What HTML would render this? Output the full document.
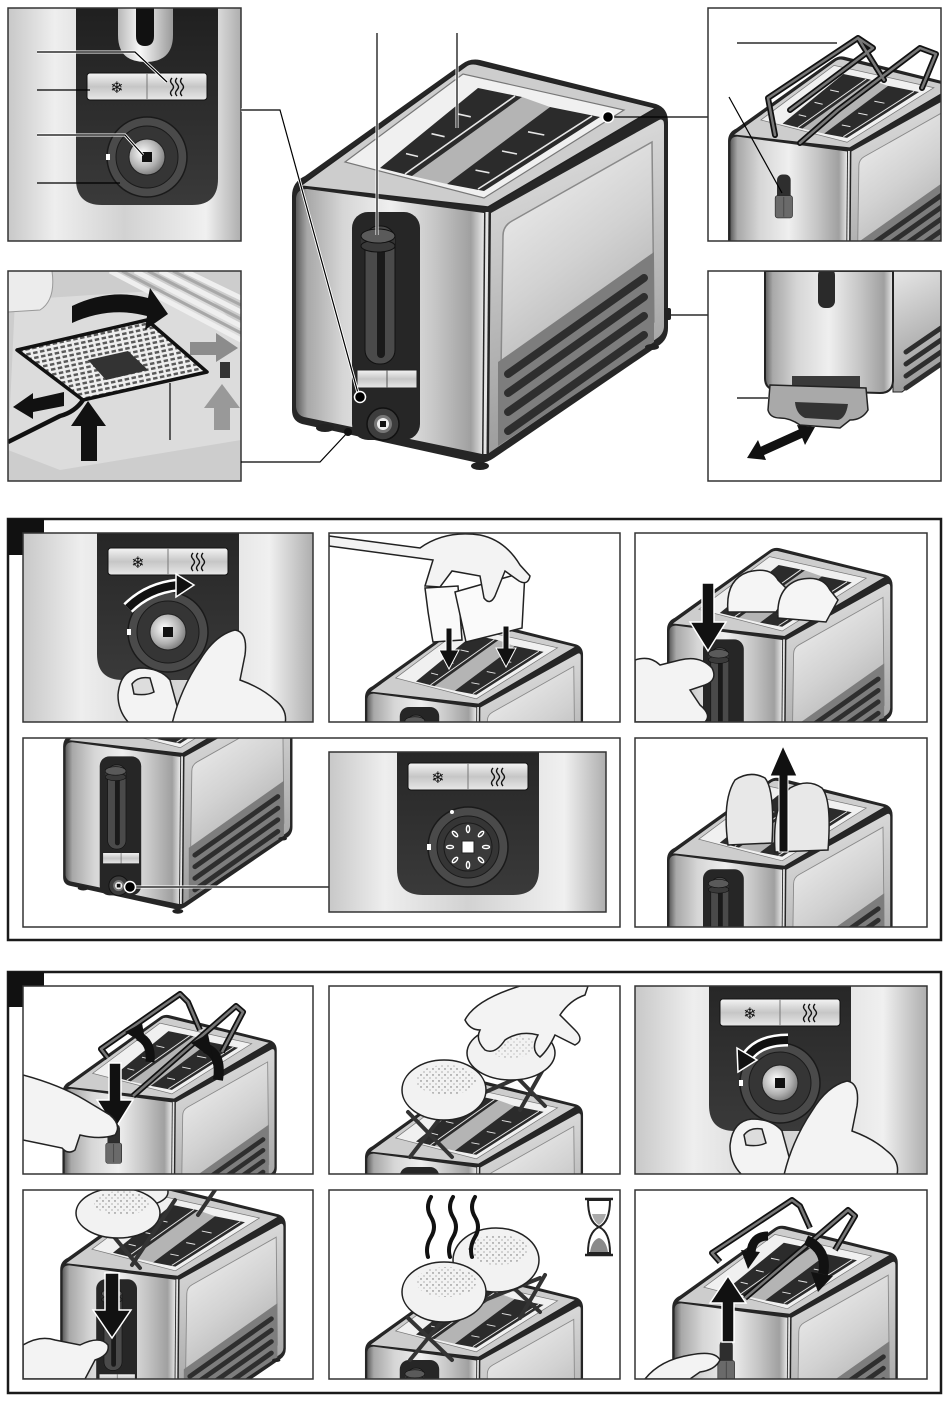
<!DOCTYPE html>
<html><head><meta charset="utf-8"><style>html,body{margin:0;padding:0;background:#fff;width:950px;height:1402px;overflow:hidden}svg{display:block}</style></head>
<body>
<svg width="950" height="1402" viewBox="0 0 950 1402" xmlns="http://www.w3.org/2000/svg" font-family="'DejaVu Sans','Liberation Sans',sans-serif">
<defs>
<linearGradient id="gFront" x1="0" y1="0" x2="1" y2="0">
<stop offset="0" stop-color="#5e5e5e"/><stop offset="0.06" stop-color="#a8a8a8"/><stop offset="0.25" stop-color="#d6d6d6"/><stop offset="0.5" stop-color="#efefef"/><stop offset="0.75" stop-color="#c4c4c4"/><stop offset="0.93" stop-color="#a0a0a0"/><stop offset="1" stop-color="#e8e8e8"/>
</linearGradient>
<linearGradient id="gSide" x1="0" y1="0" x2="0.2" y2="1"><stop offset="0" stop-color="#e6e6e6"/><stop offset="1" stop-color="#9a9a9a"/></linearGradient>
<linearGradient id="gSide2" x1="0" y1="0" x2="0.4" y2="1"><stop offset="0" stop-color="#f6f6f6"/><stop offset="0.5" stop-color="#d2d2d2"/><stop offset="1" stop-color="#a4a4a4"/></linearGradient>
<linearGradient id="gBtn" x1="0" y1="0" x2="0" y2="1"><stop offset="0" stop-color="#f4f4f4"/><stop offset="0.5" stop-color="#c6c6c6"/><stop offset="1" stop-color="#e8e8e8"/></linearGradient>
<linearGradient id="gBg" x1="0" y1="0" x2="1" y2="0"><stop offset="0" stop-color="#c8c8c8"/><stop offset="0.2" stop-color="#eeeeee"/><stop offset="0.5" stop-color="#d2d2d2"/><stop offset="0.85" stop-color="#f0f0f0"/><stop offset="1" stop-color="#aeaeae"/></linearGradient>
<linearGradient id="gDark" x1="0" y1="0" x2="0" y2="1"><stop offset="0" stop-color="#161616"/><stop offset="1" stop-color="#3a3a3a"/></linearGradient>
<linearGradient id="gU" x1="0" y1="0" x2="1" y2="0"><stop offset="0" stop-color="#b8b8b8"/><stop offset="0.4" stop-color="#f8f8f8"/><stop offset="1" stop-color="#9a9a9a"/></linearGradient>
<radialGradient id="gKnob" cx="0.4" cy="0.4" r="0.7"><stop offset="0" stop-color="#ffffff"/><stop offset="0.6" stop-color="#b0b0b0"/><stop offset="1" stop-color="#6a6a6a"/></radialGradient>
<pattern id="pDots" width="6" height="6" patternUnits="userSpaceOnUse"><circle cx="1" cy="1" r="0.7" fill="#444"/><circle cx="4" cy="4" r="0.6" fill="#666"/></pattern>
<pattern id="pGrid" width="7" height="5" patternUnits="userSpaceOnUse" patternTransform="rotate(-12)"><rect width="7" height="5" fill="#eeeeee"/><rect x="1" y="1" width="4.5" height="2.5" fill="#5a5a5a"/></pattern>

<g id="T">
<path d="M292,196 Q292,182 305,176 L462,64 Q470,58 480,60 L656,104 Q668,108 668,122 L668,328 Q668,340 658,346 L494,458 Q484,465 474,462 L302,424 Q292,421 292,410 Z" fill="#262626"/>
<path d="M296,198 Q297,189 307,189 L484,213 L482,454 L304,417 Q297,415 296,407 Z" fill="url(#gFront)"/>
<path d="M491,213 L659,120 Q664,118 664,125 L664,326 Q664,334 656,339 L489,453 Z" fill="url(#gSide)"/>
<path d="M503,236 Q503,226 512,221 L652,142 L654,322 L500,438 Z" fill="url(#gSide2)" stroke="#8a8a8a" stroke-width="1.5"/>
<path d="M498,362 L654,252 L654,342 L498,446 Z" fill="#7d7d7d"/>
<g stroke="#2e2e2e" stroke-width="8" stroke-linecap="round">
<line x1="508" y1="374" x2="644" y2="278"/><line x1="508" y1="393" x2="644" y2="297"/><line x1="508" y1="412" x2="644" y2="316"/><line x1="508" y1="431" x2="644" y2="335"/>
</g>
<line x1="487" y1="212" x2="485" y2="454" stroke="#e4e4e4" stroke-width="3"/>
<path d="M300,186 L466,66 Q470,63 476,64 L656,108 L488,207 Z" fill="#cdcdcd" stroke="#222" stroke-width="1.5"/>
<path d="M345,162 L463,74 L624,110 L484,198 Z" fill="#f0f0f0" stroke="#777" stroke-width="1.2"/>
<path d="M412,176 L522,97 L550,107 L447,184 Z" fill="#b4b4b4"/>
<path d="M380,168 L478,88 L522,97 L412,176 Z" fill="#2b2b2b"/>
<path d="M447,184 L550,107 L600,117 L484,191 Z" fill="#2b2b2b"/>
<g stroke="#e6e6e6" stroke-width="1.6">
<line x1="405" y1="174" x2="515" y2="96"/><line x1="478" y1="189" x2="592" y2="116"/>
<line x1="406" y1="153.6" x2="418" y2="156.5"/><line x1="431.5" y1="133.7" x2="444.6" y2="136.7"/><line x1="456.7" y1="113.7" x2="470.8" y2="116.8"/>
<line x1="475.5" y1="170.1" x2="489.4" y2="172.8"/><line x1="502" y1="151" x2="517" y2="154"/><line x1="528" y1="131.8" x2="544.3" y2="135"/>
</g>
<ellipse cx="325" cy="428" rx="9" ry="4" fill="#222"/><ellipse cx="480" cy="466" rx="9" ry="4" fill="#222"/><ellipse cx="652" cy="347" rx="7" ry="3" fill="#222"/>
</g>

<g id="TF1">
<rect x="352" y="212" width="68" height="228" rx="16" fill="#262626"/>
<rect x="365" y="226" width="30" height="138" rx="14" fill="#4a4a4a" stroke="#111"/>
<rect x="377" y="240" width="8" height="118" rx="4" fill="#1a1a1a"/>
<rect x="361" y="236" width="34" height="10" fill="#333"/>
<ellipse cx="378" cy="246" rx="17" ry="6" fill="#3a3a3a" stroke="#111"/>
<ellipse cx="378" cy="236" rx="17" ry="7" fill="#5a5a5a" stroke="#111"/>
<rect x="357" y="370" width="60" height="18" fill="url(#gBtn)" stroke="#222"/>
<line x1="387" y1="370" x2="387" y2="388" stroke="#555"/>
<circle cx="383" cy="424" r="16" fill="#3d3d3d" stroke="#111" stroke-width="1.5"/>
<circle cx="383" cy="424" r="9" fill="#777"/><circle cx="383" cy="424" r="6" fill="#eee"/>
<rect x="380" y="421" width="6" height="6" fill="#111"/>
</g>

<g id="TF2">
<rect x="371" y="250" width="22" height="70" rx="9" fill="#2e2e2e"/>
<rect x="368" y="284" width="28" height="36" rx="4" fill="#6a6a6a" stroke="#222"/>
<line x1="382" y1="286" x2="382" y2="318" stroke="#333"/>
</g>

<g id="C">
<path d="M-71,-220 L-71,22 Q-71,48 -45,48 L45,48 Q71,48 71,22 L71,-220 Z" fill="url(#gDark)"/>
<rect x="-60" y="-84" width="120" height="27" rx="3" fill="url(#gBtn)" stroke="#111" stroke-width="1"/>
<line x1="0" y1="-84" x2="0" y2="-57" stroke="#777"/>
<text x="-30" y="-64" font-size="16" text-anchor="middle" fill="#111">❄</text>
<g fill="none" stroke="#111" stroke-width="1.4"><path d="M25,-79 q-3,3 0,6 q3,3 0,6 q-3,3 0,6"/><path d="M30,-79 q-3,3 0,6 q3,3 0,6 q-3,3 0,6"/><path d="M35,-79 q-3,3 0,6 q3,3 0,6 q-3,3 0,6"/></g>
<circle r="40" fill="#4a4a4a" stroke="#1a1a1a" stroke-width="1.5"/>
<circle r="31" fill="#353535" stroke="#1a1a1a"/>
<circle r="18" fill="url(#gKnob)" stroke="#222"/>
<rect x="-5" y="-5" width="10" height="10" fill="#111"/>
<rect x="-41" y="-3" width="4" height="6" fill="#fff"/>
</g>

<g id="H1" fill="#f3f3f3" stroke="#222" stroke-width="1.5">
<path d="M-50,63 Q-48,38 -28,36 Q-8,36 2,48 L14,92 L-38,92 Q-50,80 -50,63 Z"/>
<path d="M-36,52 Q-30,44 -18,46 L-14,60 Q-22,64 -34,62 Z" fill="#ddd"/>
<path d="M4,92 Q12,58 32,28 Q47,3 67,-2 Q80,0 77,23 L72,48 Q94,56 107,68 Q120,78 117,92 Z"/>
</g>
</defs>

<!-- ============ TOP SECTION ============ -->
<svg x="8" y="8" width="233" height="233" viewBox="8 8 233 233">
<rect x="8" y="8" width="233" height="233" fill="url(#gBg)"/>
<use href="#C" transform="translate(147,157)"/>
<path d="M118,8 L118,35 Q118,62 145,62 Q173,62 173,35 L173,8 Z" fill="url(#gU)"/>
<path d="M136,8 L136,36 Q136,46 145,46 Q154,46 154,36 L154,8 Z" fill="#111"/>
<g stroke="#000" stroke-width="1.2" fill="none">
<polyline points="37,52 135,52 167,82" stroke="#fff" stroke-width="3"/>
<polyline points="37,52 135,52 167,82"/>
<line x1="37" y1="90" x2="90" y2="90"/>
<polyline points="37,135 125,135 143,155" stroke="#fff" stroke-width="3"/>
<polyline points="37,135 125,135 143,155"/>
<line x1="37" y1="183" x2="120" y2="183"/>
</g>
</svg>
<rect x="8" y="8" width="233" height="233" fill="none" stroke="#333" stroke-width="1.5"/>

<svg x="8" y="271" width="233" height="210" viewBox="8 271 233 210">
<rect x="8" y="271" width="233" height="210" fill="#cdcdcd"/>
<path d="M15,300 L200,288 L241,330 L241,440 L60,470 L8,450 Z" fill="#dcdcdc"/>
<g stroke="#efefef" stroke-width="5"><line x1="110" y1="271" x2="241" y2="340"/><line x1="135" y1="271" x2="241" y2="326"/><line x1="160" y1="271" x2="241" y2="312"/><line x1="185" y1="271" x2="241" y2="298"/></g>
<g stroke="#a8a8a8" stroke-width="3"><line x1="122" y1="271" x2="241" y2="333"/><line x1="148" y1="271" x2="241" y2="319"/><line x1="173" y1="271" x2="241" y2="305"/></g>
<path d="M8,271 L52,271 Q56,300 40,310 L8,312 Z" fill="#ececec" stroke="#999"/>
<path d="M17,350 L147,320 L207,372 L83,400 Z" fill="url(#pGrid)" stroke="#111" stroke-width="3.5" stroke-linejoin="round"/>
<path d="M88,360 L128,351 L148,370 L106,380 Z" fill="#333"/>
<path d="M83,400 Q75,412 60,416 L8,442" fill="none" stroke="#111" stroke-width="4.5"/>
<rect x="220" y="362" width="10" height="16" fill="#333"/>
<path d="M72,323 L72,306 Q110,288 148,298 L150,288 L168,314 L145,330 L147,316 Q110,306 72,323 Z" fill="#111"/>
<polygon points="13,407 33,393 33,399 64,392 64,406 33,412 33,419" fill="#111"/>
<polygon points="88,401 71,426 81,426 81,461 97,461 97,426 106,426" fill="#111"/>
<polygon points="190,342 216,342 216,333 238,348 216,362 216,355 190,355" fill="#8c8c8c"/>
<polygon points="222,384 204,408 214,408 214,430 230,430 230,408 240,408" fill="#999"/>
<line x1="170" y1="383" x2="170" y2="440" stroke="#000" stroke-width="1.2"/>
</svg>
<rect x="8" y="271" width="233" height="210" fill="none" stroke="#333" stroke-width="1.5"/>

<use href="#T"/>
<use href="#TF1"/>
<g fill="none">
<line x1="377" y1="33" x2="377" y2="235" stroke="#fff" stroke-width="3"/>
<line x1="377" y1="33" x2="377" y2="235" stroke="#000" stroke-width="1.2"/>
<line x1="457" y1="33" x2="457" y2="128" stroke="#fff" stroke-width="3"/>
<line x1="457" y1="33" x2="457" y2="128" stroke="#000" stroke-width="1.2"/>
<polyline points="241,110 280,110 358,393" stroke="#fff" stroke-width="3"/>
<polyline points="241,110 280,110 358,393" stroke="#000" stroke-width="1.2"/>
<polyline points="241,462 320,462 348,432" stroke="#000" stroke-width="1.2"/>
<line x1="608" y1="117" x2="708" y2="117" stroke="#000" stroke-width="1.2"/>
<line x1="668" y1="315" x2="708" y2="315" stroke="#000" stroke-width="1.2"/>
</g>
<circle cx="360" cy="397" r="5.5" fill="#000" stroke="#fff" stroke-width="1.5"/>
<circle cx="348" cy="432" r="4" fill="#111"/>
<circle cx="608" cy="117" r="5.5" fill="#000" stroke="#fff" stroke-width="1.5"/>
<rect x="664" y="308" width="7" height="12" rx="2" fill="#222"/>

<svg x="708" y="8" width="233" height="233" viewBox="708 8 233 233">
<rect x="708" y="8" width="233" height="233" fill="#fff"/>
<use href="#T" transform="translate(547,19.5) scale(0.62)"/>
<use href="#TF2" transform="translate(547,19.5) scale(0.62)"/>
<g fill="none" stroke-linejoin="round" stroke-linecap="round">
<path d="M775,135 L768,98 L858,38 L873,48 L790,110 M800,143 L838,110 L920,48 L936,54 L922,88 M858,38 L884,80" stroke="#111" stroke-width="6"/>
<path d="M775,135 L768,98 L858,38 L873,48 L790,110 M800,143 L838,110 L920,48 L936,54 L922,88 M858,38 L884,80" stroke="#777" stroke-width="2.5"/>
</g>
<line x1="737" y1="43" x2="837" y2="43" stroke="#000" stroke-width="1.2"/>
<line x1="729" y1="97" x2="782" y2="193" stroke="#000" stroke-width="1.2"/>
</svg>
<rect x="708" y="8" width="233" height="233" fill="none" stroke="#333" stroke-width="1.5"/>

<svg x="708" y="271" width="233" height="210" viewBox="708 271 233 210">
<rect x="708" y="271" width="233" height="210" fill="#fff"/>
<path d="M893,271 L941,271 L941,362 L902,392 L893,392 Z" fill="url(#gSide)" stroke="#222"/>
<g stroke="#2e2e2e" stroke-width="5" stroke-linecap="round"><line x1="906" y1="352" x2="941" y2="328"/><line x1="906" y1="364" x2="941" y2="340"/><line x1="906" y1="376" x2="941" y2="352"/><line x1="906" y1="388" x2="941" y2="364"/></g>
<path d="M765,271 L893,271 L893,380 Q893,393 880,393 L778,390 Q765,390 765,378 Z" fill="url(#gFront)" stroke="#222" stroke-width="2"/>
<rect x="818" y="268" width="17" height="40" rx="7" fill="#2a2a2a"/>
<rect x="792" y="376" width="68" height="14" fill="#3a3a3a"/>
<path d="M770,385 L866,388 L868,410 Q862,420 850,420 L840,428 L800,425 Q790,418 780,418 Q770,418 768,410 Z" fill="#a9a9a9" stroke="#222" stroke-width="1.5"/>
<path d="M795,402 L848,404 Q846,418 838,420 L805,418 Q796,414 795,402 Z" fill="#333"/>
<line x1="737" y1="398" x2="768" y2="398" stroke="#000" stroke-width="1.2"/>
<line x1="760" y1="452" x2="802" y2="433" stroke="#111" stroke-width="9"/>
<polygon points="747,458 758,440 766,460" fill="#111"/>
<polygon points="815,427 797,425 805,445" fill="#111"/>
</svg>
<rect x="708" y="271" width="233" height="210" fill="none" stroke="#333" stroke-width="1.5"/>

<!-- ============ SECTION 1 ============ -->
<rect x="8" y="519" width="933" height="421" fill="none" stroke="#1a1a1a" stroke-width="2.5"/>
<rect x="8" y="519" width="36" height="36" fill="#111"/>

<svg x="23" y="533" width="290" height="189" viewBox="23 533 290 189">
<rect x="23" y="533" width="290" height="189" fill="url(#gBg)"/>
<use href="#C" transform="translate(168,632)"/>
<path d="M128,608 Q148,588 178,585" fill="none" stroke="#fff" stroke-width="13"/>
<path d="M128,608 Q148,588 178,585" fill="none" stroke="#111" stroke-width="8"/>
<polygon points="176,574 194,585 176,597" fill="#111" stroke="#fff" stroke-width="1.5"/>
<use href="#H1" transform="translate(168,632)"/>
</svg>
<rect x="23" y="533" width="290" height="189" fill="none" stroke="#333" stroke-width="1.5"/>

<svg x="329" y="533" width="291" height="189" viewBox="329 533 291 189">
<rect x="329" y="533" width="291" height="189" fill="#fff"/>
<use href="#T" transform="translate(195.6,584) scale(0.58)"/>
<use href="#TF1" transform="translate(195.6,584) scale(0.58)"/>
<path d="M425,588 L458,586 L462,640 L433,642 Q428,615 425,588 Z" fill="#fafafa" stroke="#222" stroke-width="1.5"/>
<path d="M455,592 L525,572 L522,628 L466,642 Z" fill="#fafafa" stroke="#222" stroke-width="1.5"/>
<path d="M329,536 L420,548 Q445,530 480,535 Q505,540 520,565 L530,576 Q528,586 519,581 L505,571 L495,596 Q490,606 484,598 L480,576 L452,571 L440,587 L425,586 L433,560 L329,546 Z" fill="#f3f3f3" stroke="#222" stroke-width="1.5"/>
<g fill="#111" stroke="#fff" stroke-width="1"><polygon points="446,628 452,628 452,650 459,650 449,669 439,650 446,650"/><polygon points="503,626 509,626 509,648 516,648 506,667 496,648 503,648"/></g>
</svg>
<rect x="329" y="533" width="291" height="189" fill="none" stroke="#333" stroke-width="1.5"/>

<svg x="635" y="533" width="292" height="189" viewBox="635 533 292 189">
<rect x="635" y="533" width="292" height="189" fill="#fff"/>
<use href="#T" transform="translate(491.8,512.2) scale(0.6)"/>
<use href="#TF1" transform="translate(491.8,512.2) scale(0.6)"/>
<path d="M728,612 Q725,580 748,572 Q770,566 778,580 L790,592 L776,612 Z" fill="#f5f5f5" stroke="#222" stroke-width="1.5"/>
<path d="M778,618 Q776,588 798,580 Q822,574 830,590 L838,600 L826,622 Z" fill="#f5f5f5" stroke="#222" stroke-width="1.5"/>
<polygon points="702,583 714,583 714,622 726,622 708,651 690,622 702,622" fill="#111" stroke="#fff" stroke-width="1.5"/>
<path d="M635,660 Q650,655 660,665 L680,660 Q700,655 712,668 Q718,680 705,685 L690,690 L700,705 Q712,715 705,722 L635,722 Z" fill="#f3f3f3" stroke="#222" stroke-width="1.5"/>
</svg>
<rect x="635" y="533" width="292" height="189" fill="none" stroke="#333" stroke-width="1.5"/>

<svg x="23" y="738" width="597" height="189" viewBox="23 738 597 189">
<rect x="23" y="738" width="597" height="189" fill="#fff"/>
<use href="#T" transform="translate(-115,627) scale(0.61)"/>
<use href="#TF1" transform="translate(-115,627) scale(0.61)"/>
<line x1="130" y1="887" x2="329" y2="887" stroke="#fff" stroke-width="3"/>
<line x1="130" y1="887" x2="329" y2="887" stroke="#000" stroke-width="1.2"/>
<circle cx="130" cy="887" r="5.5" fill="#000" stroke="#fff" stroke-width="1.5"/>
</svg>
<rect x="23" y="738" width="597" height="189" fill="none" stroke="#333" stroke-width="1.5"/>
<svg x="329" y="752" width="277" height="160" viewBox="329 752 277 160">
<rect x="329" y="752" width="277" height="160" fill="url(#gBg)"/>
<use href="#C" transform="translate(468,847)"/>
<circle cx="468" cy="847" r="24" fill="#3a3a3a" stroke="#1a1a1a"/>
<g fill="none" stroke="#fff" stroke-width="1.4">
<ellipse cx="468" cy="829" rx="1.6" ry="3.5"/><ellipse cx="481" cy="834" rx="1.6" ry="3.5" transform="rotate(45 481 834)"/><ellipse cx="486" cy="847" rx="3.5" ry="1.6"/><ellipse cx="481" cy="860" rx="1.6" ry="3.5" transform="rotate(-45 481 860)"/><ellipse cx="455" cy="834" rx="1.6" ry="3.5" transform="rotate(-45 455 834)"/><ellipse cx="450" cy="847" rx="3.5" ry="1.6"/><ellipse cx="455" cy="860" rx="1.6" ry="3.5" transform="rotate(45 455 860)"/><ellipse cx="468" cy="865" rx="1.6" ry="3.5"/>
</g>
<rect x="462" y="841" width="12" height="12" fill="#fff" stroke="#222"/>
<circle cx="452" cy="812" r="2" fill="#fff"/>
</svg>
<rect x="329" y="752" width="277" height="160" fill="none" stroke="#333" stroke-width="1.5"/>

<svg x="635" y="738" width="292" height="189" viewBox="635 738 292 189">
<rect x="635" y="738" width="292" height="189" fill="#fff"/>
<use href="#T" transform="translate(491.8,742) scale(0.6)"/>
<use href="#TF1" transform="translate(491.8,742) scale(0.6)"/>
<path d="M728,845 Q722,800 735,780 Q750,770 765,778 Q775,790 772,843 Z" fill="#e8e8e8" stroke="#222" stroke-width="1.5"/>
<path d="M775,852 Q772,805 790,788 Q808,778 822,788 Q832,800 828,850 Z" fill="#e8e8e8" stroke="#222" stroke-width="1.5"/>
<polygon points="783,746 797,776 788,776 788,852 779,852 779,776 770,776" fill="#111" stroke="#fff" stroke-width="1"/>
</svg>
<rect x="635" y="738" width="292" height="189" fill="none" stroke="#333" stroke-width="1.5"/>

<!-- ============ SECTION 2 ============ -->
<rect x="8" y="972" width="933" height="421" fill="none" stroke="#1a1a1a" stroke-width="2.5"/>
<rect x="8" y="972" width="36" height="35" fill="#111"/>

<svg x="23" y="986" width="290" height="188" viewBox="23 986 290 188">
<rect x="23" y="986" width="290" height="188" fill="#fff"/>
<use href="#T" transform="translate(-104,981) scale(0.57)"/>
<use href="#TF2" transform="translate(-104,981) scale(0.57)"/>
<g fill="none" stroke-linejoin="round">
<path d="M108,1058 L101,1049 L180,994 L188,1002 L200,1030 M133,1096 L236,1006 L243,1012 L222,1052" stroke="#111" stroke-width="6"/>
<path d="M108,1058 L101,1049 L180,994 L188,1002 L200,1030 M133,1096 L236,1006 L243,1012 L222,1052" stroke="#777" stroke-width="2.5"/>
</g>
<path d="M150,1062 Q152,1042 138,1036" fill="none" stroke="#111" stroke-width="9"/>
<polygon points="125,1032 142,1023 146,1045" fill="#111"/>
<path d="M218,1080 Q222,1054 205,1048" fill="none" stroke="#111" stroke-width="10"/>
<polygon points="191,1043 208,1034 213,1059" fill="#111"/>
<polygon points="109,1063 121,1063 121,1100 133,1100 115,1129 97,1100 109,1100" fill="#111" stroke="#fff" stroke-width="1.5"/>
<path d="M23,1075 Q60,1085 85,1100 L110,1115 Q122,1125 115,1135 Q100,1140 80,1135 L75,1150 Q68,1155 62,1148 L23,1140 Z" fill="#f3f3f3" stroke="#222" stroke-width="1.5"/>
</svg>
<rect x="23" y="986" width="290" height="188" fill="none" stroke="#333" stroke-width="1.5"/>

<svg x="329" y="986" width="291" height="188" viewBox="329 986 291 188">
<rect x="329" y="986" width="291" height="188" fill="#fff"/>
<use href="#T" transform="translate(195.6,1044) scale(0.58)"/>
<use href="#TF1" transform="translate(195.6,1044) scale(0.58)"/>
<g stroke="#333" stroke-width="4" stroke-linecap="round"><line x1="408" y1="1112" x2="452" y2="1157"/><line x1="448" y1="1108" x2="410" y2="1157"/><line x1="512" y1="1072" x2="545" y2="1106"/><line x1="545" y1="1066" x2="520" y2="1110"/><line x1="440" y1="1112" x2="540" y2="1068"/></g>
<ellipse cx="511" cy="1053" rx="44" ry="27" fill="#f2f2f2" stroke="#222" stroke-width="1.5"/>
<ellipse cx="444" cy="1090" rx="42" ry="30" fill="#f2f2f2" stroke="#222" stroke-width="1.5"/>
<ellipse cx="446" cy="1080" rx="30" ry="15" fill="url(#pDots)" opacity="0.8"/>
<ellipse cx="510" cy="1046" rx="25" ry="12" fill="url(#pDots)" opacity="0.5"/>
<path d="M520,986 L588,986 L585,995 Q570,1000 560,1015 L575,1030 Q585,1040 575,1045 L555,1035 Q548,1050 540,1057 Q530,1050 538,1035 Q520,1030 505,1040 Q495,1055 485,1050 Q475,1040 480,1030 Q470,1030 465,1020 Q475,1000 520,986 Z" fill="#f3f3f3" stroke="#222" stroke-width="1.5"/>
</svg>
<rect x="329" y="986" width="291" height="188" fill="none" stroke="#333" stroke-width="1.5"/>

<svg x="635" y="986" width="292" height="188" viewBox="635 986 292 188">
<rect x="635" y="986" width="292" height="188" fill="url(#gBg)"/>
<use href="#C" transform="translate(780,1083)"/>
<path d="M788,1040 Q760,1040 748,1056" fill="none" stroke="#fff" stroke-width="13"/>
<path d="M788,1040 Q760,1040 748,1056" fill="none" stroke="#111" stroke-width="8"/>
<polygon points="737,1048 757,1060 738,1072" fill="#111" stroke="#fff" stroke-width="1.5"/>
<use href="#H1" transform="translate(780,1083)"/>
</svg>
<rect x="635" y="986" width="292" height="188" fill="none" stroke="#333" stroke-width="1.5"/>

<svg x="23" y="1190" width="290" height="189" viewBox="23 1190 290 189">
<rect x="23" y="1190" width="290" height="189" fill="#fff"/>
<use href="#T" transform="translate(-115,1152) scale(0.6)"/>
<use href="#TF1" transform="translate(-115,1152) scale(0.6)"/>
<g stroke="#333" stroke-width="4" stroke-linecap="round"><line x1="110" y1="1232" x2="140" y2="1268"/><line x1="175" y1="1200" x2="132" y2="1265"/><line x1="215" y1="1190" x2="198" y2="1215"/></g>
<ellipse cx="140" cy="1192" rx="28" ry="14" fill="#f2f2f2" stroke="#222" stroke-width="1.5"/>
<ellipse cx="118" cy="1213" rx="42" ry="25" fill="#f2f2f2" stroke="#222" stroke-width="1.5"/>
<ellipse cx="122" cy="1203" rx="28" ry="12" fill="url(#pDots)" opacity="0.8"/>
<polygon points="105,1273 119,1273 119,1310 131,1310 112,1338 93,1310 105,1310" fill="#111" stroke="#fff" stroke-width="1.5"/>
<path d="M23,1345 Q40,1335 55,1340 L80,1345 Q100,1335 108,1345 Q110,1355 95,1360 L85,1379 L23,1379 Z" fill="#f3f3f3" stroke="#222" stroke-width="1.5"/>
</svg>
<rect x="23" y="1190" width="290" height="189" fill="none" stroke="#333" stroke-width="1.5"/>

<svg x="329" y="1190" width="291" height="189" viewBox="329 1190 291 189">
<rect x="329" y="1190" width="291" height="189" fill="#fff"/>
<use href="#T" transform="translate(195.6,1237) scale(0.58)"/>
<use href="#TF1" transform="translate(195.6,1237) scale(0.58)"/>
<g stroke="#333" stroke-width="4" stroke-linecap="round"><line x1="408" y1="1318" x2="452" y2="1360"/><line x1="448" y1="1314" x2="410" y2="1360"/><line x1="505" y1="1280" x2="540" y2="1312"/><line x1="545" y1="1275" x2="520" y2="1318"/><line x1="440" y1="1318" x2="540" y2="1278"/></g>
<ellipse cx="496" cy="1260" rx="43" ry="32" fill="#f2f2f2" stroke="#222" stroke-width="1.5"/>
<ellipse cx="444" cy="1292" rx="42" ry="30" fill="#f2f2f2" stroke="#222" stroke-width="1.5"/>
<ellipse cx="446" cy="1282" rx="30" ry="15" fill="url(#pDots)" opacity="0.8"/>
<ellipse cx="498" cy="1250" rx="30" ry="15" fill="url(#pDots)" opacity="0.8"/>
<g fill="none" stroke="#111" stroke-width="4" stroke-linecap="round">
<path d="M431,1197 q-6,10 0,20 q6,10 0,20 q-6,10 -3,20"/><path d="M453,1197 q-6,10 0,20 q6,10 0,20 q-6,10 -3,20"/><path d="M475,1197 q-6,10 0,20 q6,10 0,20 q-6,10 -3,20"/>
</g>
<path d="M588,1200 Q588,1222 599,1227 Q588,1232 588,1253 L610,1253 Q610,1232 599,1227 Q610,1222 610,1200 Z" fill="#fff" stroke="#222" stroke-width="2"/>
<path d="M590,1252 Q592,1240 599,1238 Q606,1240 608,1252 Z" fill="#8a8a8a"/>
<path d="M592,1214 L606,1214 Q604,1222 599,1225 Q594,1222 592,1214 Z" fill="#aaa"/>
<line x1="585" y1="1199" x2="613" y2="1199" stroke="#222" stroke-width="2.5"/>
<line x1="585" y1="1255" x2="613" y2="1255" stroke="#222" stroke-width="2.5"/>
</svg>
<rect x="329" y="1190" width="291" height="189" fill="none" stroke="#333" stroke-width="1.5"/>

<svg x="635" y="1190" width="292" height="189" viewBox="635 1190 292 189">
<rect x="635" y="1190" width="292" height="189" fill="#fff"/>
<use href="#T" transform="translate(497,1190) scale(0.6)"/>
<use href="#TF2" transform="translate(497,1190) scale(0.6)"/>
<g fill="none" stroke-linejoin="round">
<path d="M720,1262 L712,1253 L792,1200 L800,1206 L810,1228 M745,1298 L848,1210 L855,1216 L835,1250" stroke="#111" stroke-width="6"/>
<path d="M720,1262 L712,1253 L792,1200 L800,1206 L810,1228 M745,1298 L848,1210 L855,1216 L835,1250" stroke="#777" stroke-width="2.5"/>
</g>
<path d="M768,1236 Q752,1236 751,1253" fill="none" stroke="#111" stroke-width="9"/>
<polygon points="741,1250 760,1252 748,1269" fill="#111"/>
<path d="M806,1240 Q828,1250 823,1274" fill="none" stroke="#111" stroke-width="10"/>
<polygon points="811,1272 833,1276 818,1292" fill="#111"/>
<polygon points="728,1276 746,1303 734,1303 734,1342 722,1342 722,1303 710,1303" fill="#111" stroke="#fff" stroke-width="1.5"/>
<path d="M645,1379 Q660,1360 690,1355 Q715,1350 720,1360 Q715,1370 700,1372 L690,1379 Z" fill="#f3f3f3" stroke="#222" stroke-width="1.5"/>
</svg>
<rect x="635" y="1190" width="292" height="189" fill="none" stroke="#333" stroke-width="1.5"/>
</svg>
</body></html>
